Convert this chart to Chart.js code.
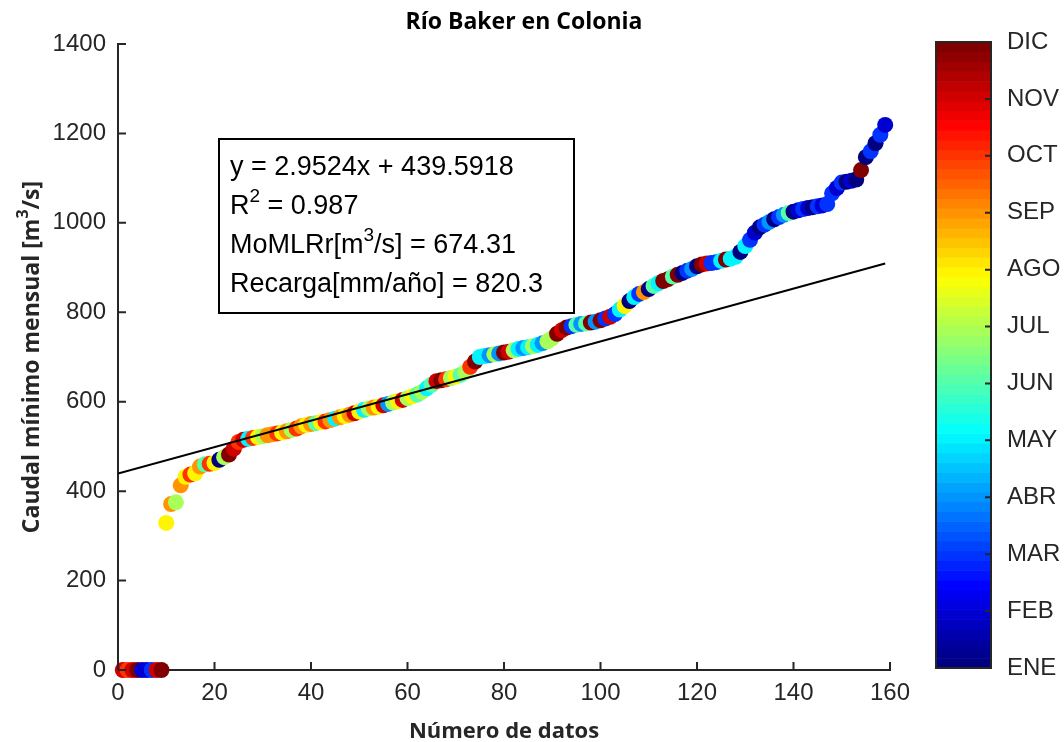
<!DOCTYPE html>
<html>
<head>
<meta charset="utf-8">
<script src="https://cdn.jsdelivr.net/npm/chart.js@4"></script>
<style>
  html, body { margin: 0; padding: 0; background: #fff; }
  canvas { display: block; }
</style>
</head>
<body>
<canvas id="grafico" width="1064" height="742"></canvas>
<script>
// datos
const meses = ["ENE","FEB","MAR","ABR","MAY","JUN","JUL","AGO","SEP","OCT","NOV","DIC"];

// caudal minimo mensual ordenado (m3/s), indice 1..159
const caudal = [
  0,0,0,0,0,0,0,0,0,
  329,371,375,413,432,437,440,455,460,461,
  463,470,476,482,495,510,515,517,519,521,
  523,525,527,529,531,534,537,540,545,548,
  550,552,554,556,559,562,565,568,571,574,
  578,582,585,587,589,592,595,598,601,604,
  608,612,616,622,630,638,646,648,650,653,
  656,660,666,678,690,700,702,704,706,708,
  710,712,715,718,720,722,724,727,731,735,
  742,752,760,766,769,772,774,775,777,779,
  782,786,790,796,806,814,825,834,841,845,
  852,859,865,870,874,880,884,888,893,897,
  903,907,909,910,912,915,918,920,924,935,
  948,962,978,990,996,1002,1008,1013,1018,1022,
  1025,1028,1031,1033,1035,1037,1039,1042,1066,1078,
  1090,1092,1094,1097,1118,1147,1160,1178,1197,1219
];

// mes de cada dato (1 = ENE ... 12 = DIC)
const mes = [
  11,10,11,12,2,2,3,11,12,
  8,9,7,9,8,10,8,9,6,10,
  8,1,7,12,11,10,11,5,10,8,
  7,9,9,10,8,9,7,10,9,8,
  9,6,8,10,9,5,9,8,9,11,
  8,5,7,9,8,11,4,7,8,11,
  7,8,6,7,5,6,11,12,10,7,
  8,6,7,10,12,5,5,4,7,4,
  12,11,7,5,4,5,7,5,4,7,
  7,12,11,12,3,6,4,6,12,4,
  12,3,11,3,5,8,1,5,3,9,
  1,6,5,12,12,6,12,1,3,4,
  1,12,11,3,3,5,12,5,5,1,
  5,3,2,1,3,4,1,3,4,6,
  1,2,3,2,1,3,2,3,3,2,
  3,1,2,1,12,1,3,1,3,2
];

const xTicks = [0,20,40,60,80,100,120,140,160];
const yTicks = [0,200,400,600,800,1000,1200,1400];

// ajuste lineal
const pendiente = 2.9524;
const intercepto = 439.5918;
const textoAjuste = [
  [["y = 2.9524x + 439.5918"]],
  [["R"],["2","sup"],[" = 0.987"]],
  [["MoMLRr[m"],["3","sup"],["/s] = 674.31"]],
  [["Recarga[mm/año] = 820.3"]]
];

// colormap jet (64 niveles como matlab)
function jet(t){
  const q = Math.min(63, Math.floor(t * 64)) / 63;
  const c = v => Math.round(255 * Math.max(0, Math.min(1, v)));
  return `rgb(${c(1.5 - Math.abs(4*q - 3))},${c(1.5 - Math.abs(4*q - 2))},${c(1.5 - Math.abs(4*q - 1))})`;
}
const colorMes = m => jet((m - 1) / 11);

const puntos = caudal.map((v, i) => ({ x: i + 1, y: v }));
const xFin = caudal.length;
const recta = [0, xFin].map(x => ({ x, y: pendiente * x + intercepto }));

const GRIS = "#262626";
const FUENTE = '"Liberation Sans", Arial, sans-serif';
const FUENTE_B = '"Open Sans", "Liberation Sans", sans-serif';

// dibuja texto con superindices
function textoRico(ctx, partes, x, y, size, fam, weight){
  let cx = x;
  for (const [s, tipo] of partes) {
    const sup = tipo === "sup";
    ctx.font = `${weight || ""} ${sup ? Math.round(size*0.7) : size}px ${fam}`;
    ctx.fillText(s, cx, sup ? y - size*0.38 : y);
    cx += ctx.measureText(s).width;
  }
  return cx - x;
}
function anchoRico(ctx, partes, size, fam, weight){
  let w = 0;
  for (const [s, tipo] of partes) {
    ctx.font = `${weight || ""} ${tipo === "sup" ? Math.round(size*0.7) : size}px ${fam}`;
    w += ctx.measureText(s).width;
  }
  return w;
}

const extras = {
  id: "extras",
  afterDraw(chart){
    const { ctx, chartArea: a, scales: { x, y } } = chart;
    ctx.save();

    // ticks hacia dentro
    ctx.strokeStyle = GRIS; ctx.lineWidth = 2;
    ctx.beginPath();
    for (const t of xTicks) { const px = x.getPixelForValue(t); ctx.moveTo(px, a.bottom); ctx.lineTo(px, a.bottom - 8); }
    for (const t of yTicks) { const py = y.getPixelForValue(t); ctx.moveTo(a.left, py); ctx.lineTo(a.left + 8, py); }
    ctx.stroke();

    // titulo
    ctx.fillStyle = "#000";
    ctx.font = `bold 23px ${FUENTE_B}`;
    ctx.textAlign = "center"; ctx.textBaseline = "middle";
    ctx.fillText("Río Baker en Colonia", 524, 22);

    // titulos de ejes
    ctx.fillStyle = GRIS;
    ctx.font = `bold 22px ${FUENTE_B}`;
    ctx.fillText("Número de datos", (a.left + a.right) / 2, 732);
    ctx.save();
    ctx.translate(32, (a.top + a.bottom) / 2);
    ctx.rotate(-Math.PI / 2);
    const tituloY = [["Caudal mínimo mensual [m"],["3","sup"],["/s]"]];
    const wy = anchoRico(ctx, tituloY, 23, FUENTE_B, "bold");
    ctx.textAlign = "left";
    textoRico(ctx, tituloY, -wy / 2, 0, 23, FUENTE_B, "bold");
    ctx.restore();

    // cuadro de texto
    const bx = 219, by = 139, bw = 355, bh = 174;
    ctx.fillStyle = "#fff";
    ctx.fillRect(bx, by, bw, bh);
    ctx.strokeStyle = "#000"; ctx.lineWidth = 2;
    ctx.strokeRect(bx, by, bw, bh);
    ctx.fillStyle = "#000";
    ctx.textAlign = "left"; ctx.textBaseline = "middle";
    textoAjuste.forEach((linea, i) => textoRico(ctx, linea, bx + 11, by + 29 + i * 39, 27, FUENTE));

    // barra de color
    const cx0 = 936, cx1 = 991, cy0 = 42, cy1 = 668;
    const n = 64, h = (cy1 - cy0) / n;
    for (let k = 0; k < n; k++) {
      ctx.fillStyle = jet((k + 0.5) / n);
      ctx.fillRect(cx0, cy1 - (k + 1) * h, cx1 - cx0, h + 0.6);
    }
    ctx.strokeStyle = GRIS; ctx.lineWidth = 2;
    ctx.strokeRect(cx0, cy0, cx1 - cx0, cy1 - cy0);
    ctx.fillStyle = GRIS;
    ctx.font = `24px ${FUENTE}`;
    ctx.textAlign = "left"; ctx.textBaseline = "middle";
    ctx.beginPath();
    meses.forEach((m, i) => {
      const py = cy1 - i * (cy1 - cy0) / (meses.length - 1);
      ctx.moveTo(cx1, py); ctx.lineTo(cx1 - 6, py);
      ctx.fillText(m, 1007, py);
    });
    ctx.stroke();

    ctx.restore();
  }
};

new Chart(document.getElementById("grafico"), {
  type: "scatter",
  data: {
    datasets: [
      {
        type: "line",
        label: "Ajuste",
        data: recta,
        borderColor: "#000",
        borderWidth: 2,
        pointRadius: 0,
        fill: false,
        order: 0
      },
      {
        label: "Caudal",
        data: puntos,
        backgroundColor: mes.map(colorMes),
        borderWidth: 0,
        pointRadius: 8,
        pointHoverRadius: 8,
        clip: false,
        order: 1
      }
    ]
  },
  plugins: [extras],
  options: {
    responsive: false,
    animation: false,
    layout: { padding: { top: 44, right: 174, left: 0, bottom: 0 } },
    plugins: { legend: { display: false }, tooltip: { enabled: false }, title: { display: false } },
    scales: {
      x: {
        type: "linear", min: 0, max: 160,
        afterBuildTicks: s => { s.ticks = xTicks.map(v => ({ value: v })); },
        afterFit: s => { s.height = 72; },
        grid: { display: false, drawTicks: false },
        border: { display: true, color: GRIS, width: 2 },
        ticks: { color: GRIS, font: { family: FUENTE, size: 24 }, padding: 9, maxRotation: 0, callback: v => String(v) }
      },
      y: {
        type: "linear", min: 0, max: 1400,
        afterBuildTicks: s => { s.ticks = yTicks.map(v => ({ value: v })); },
        afterFit: s => { s.width = 118; },
        grid: { display: false, drawTicks: false },
        border: { display: true, color: GRIS, width: 2 },
        ticks: { color: GRIS, font: { family: FUENTE, size: 24 }, padding: 12, callback: v => String(v) }
      }
    }
  }
});
</script>
</body>
</html>
